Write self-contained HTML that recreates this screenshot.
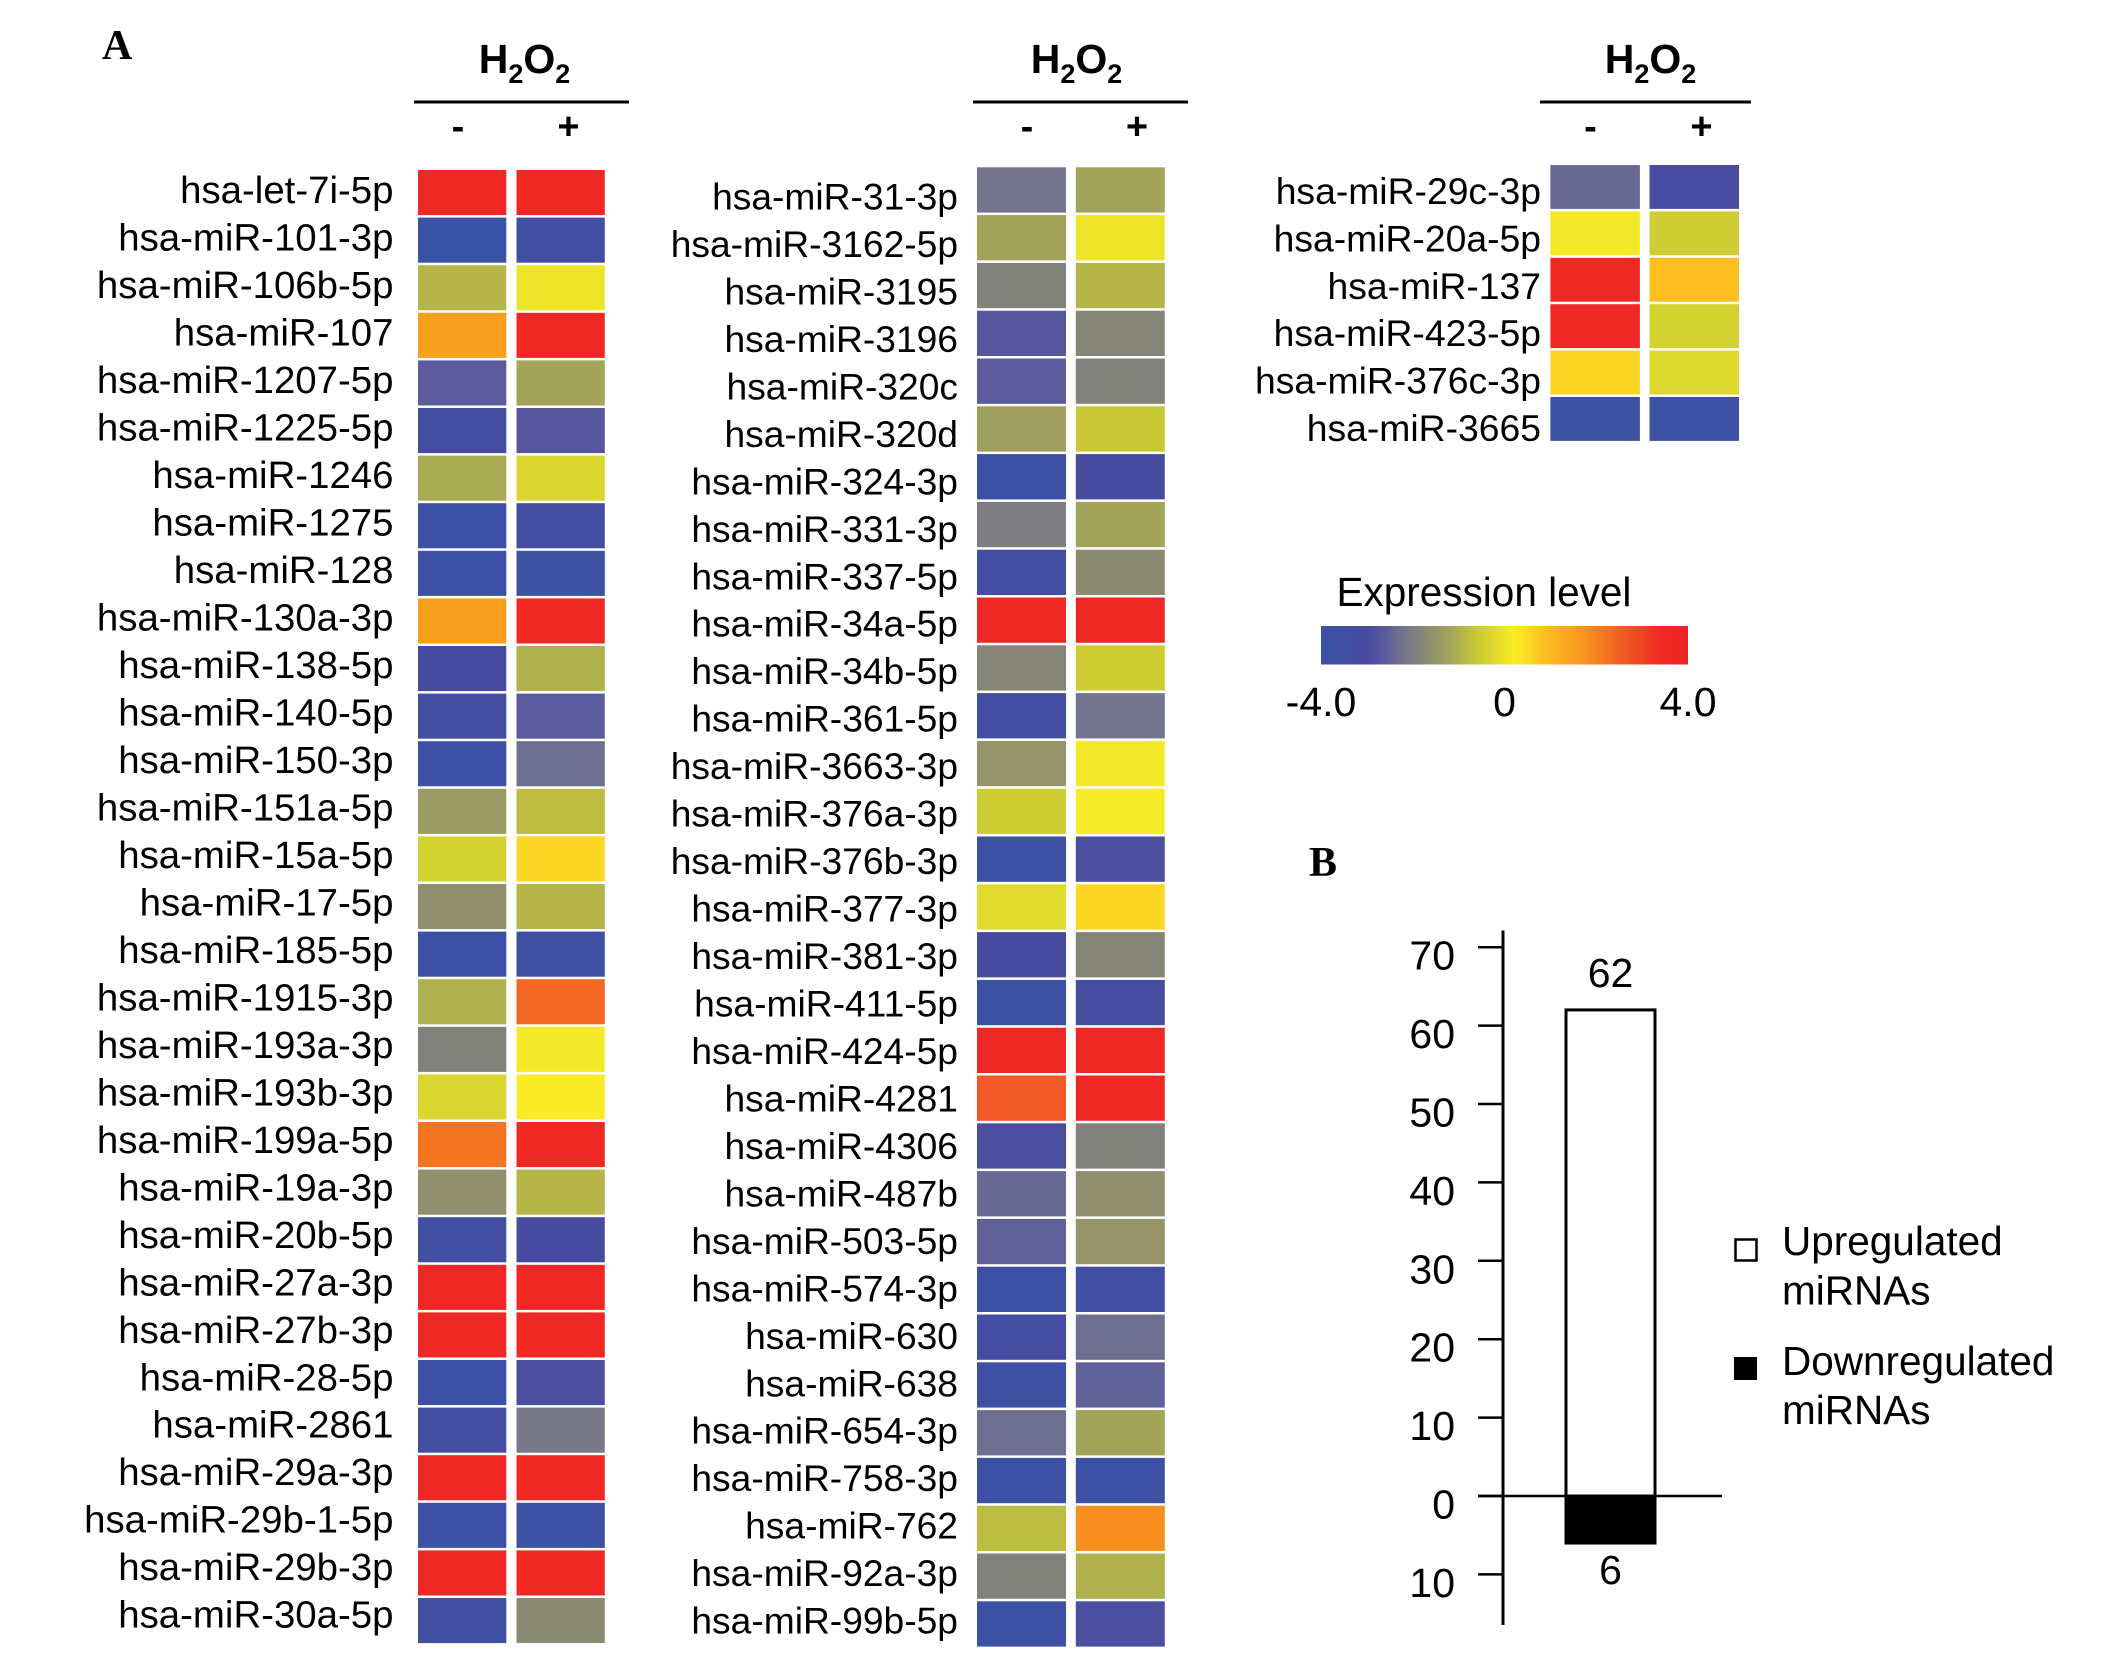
<!DOCTYPE html>
<html lang="en">
<head>
<meta charset="utf-8">
<title>miRNA expression heatmap and regulated miRNA counts</title>
<style>
html,body{margin:0;padding:0;background:#fff;width:2126px;height:1663px;overflow:hidden}
svg{display:block}
text{font-family:"Liberation Sans",Arial,sans-serif;fill:#000}
</style>
</head>
<body>
<svg id="figure" xmlns="http://www.w3.org/2000/svg" width="2126" height="1663" viewBox="0 0 2126 1663">
<defs><linearGradient id="cbar" x1="0" x2="1" y1="0" y2="0"></linearGradient></defs>
<text x="102" y="59" style="font-family:'Liberation Serif',serif;font-weight:bold;font-size:42px">A</text>
<text x="1309" y="876" style="font-family:'Liberation Serif',serif;font-weight:bold;font-size:42px">B</text>
<g id="heat"></g>
<g id="legend"></g>
<g id="bars"></g>
</svg>
<script>
var labelsA = ["hsa-let-7i-5p","hsa-miR-101-3p","hsa-miR-106b-5p","hsa-miR-107","hsa-miR-1207-5p","hsa-miR-1225-5p","hsa-miR-1246","hsa-miR-1275","hsa-miR-128","hsa-miR-130a-3p","hsa-miR-138-5p","hsa-miR-140-5p","hsa-miR-150-3p","hsa-miR-151a-5p","hsa-miR-15a-5p","hsa-miR-17-5p","hsa-miR-185-5p","hsa-miR-1915-3p","hsa-miR-193a-3p","hsa-miR-193b-3p","hsa-miR-199a-5p","hsa-miR-19a-3p","hsa-miR-20b-5p","hsa-miR-27a-3p","hsa-miR-27b-3p","hsa-miR-28-5p","hsa-miR-2861","hsa-miR-29a-3p","hsa-miR-29b-1-5p","hsa-miR-29b-3p","hsa-miR-30a-5p"];
var minusA = [3.6,-3.9,-0.9,1.5,-2.6,-3.2,-1.1,-3.8,-3.8,1.5,-3.0,-3.2,-3.8,-1.4,-0.4,-1.6,-3.8,-1.0,-1.9,-0.3,2.2,-1.6,-3.4,3.6,3.6,-3.8,-3.4,3.6,-3.8,3.6,-3.5];
var plusA = [3.6,-3.4,0.0,3.6,-1.2,-2.7,-0.3,-3.3,-3.7,3.6,-1.0,-2.6,-2.3,-0.8,0.55,-0.9,-3.6,2.4,0.1,0.25,3.5,-0.9,-3.0,3.6,3.6,-2.9,-2.1,3.6,-3.8,3.6,-1.7];
var labelsB = ["hsa-miR-31-3p","hsa-miR-3162-5p","hsa-miR-3195","hsa-miR-3196","hsa-miR-320c","hsa-miR-320d","hsa-miR-324-3p","hsa-miR-331-3p","hsa-miR-337-5p","hsa-miR-34a-5p","hsa-miR-34b-5p","hsa-miR-361-5p","hsa-miR-3663-3p","hsa-miR-376a-3p","hsa-miR-376b-3p","hsa-miR-377-3p","hsa-miR-381-3p","hsa-miR-411-5p","hsa-miR-424-5p","hsa-miR-4281","hsa-miR-4306","hsa-miR-487b","hsa-miR-503-5p","hsa-miR-574-3p","hsa-miR-630","hsa-miR-638","hsa-miR-654-3p","hsa-miR-758-3p","hsa-miR-762","hsa-miR-92a-3p","hsa-miR-99b-5p"];
var minusB = [-2.2,-1.2,-1.9,-2.7,-2.6,-1.3,-3.8,-2.0,-3.4,3.6,-1.8,-3.3,-1.5,-0.5,-3.8,-0.2,-3.0,-3.7,3.6,2.6,-2.9,-2.4,-2.5,-3.8,-3.2,-3.6,-2.3,-3.8,-0.8,-1.9,-3.8];
var plusB = [-1.2,0.0,-0.9,-1.8,-1.9,-0.6,-3.0,-1.2,-1.7,3.6,-0.5,-2.2,0.1,0.15,-2.9,0.55,-1.8,-3.1,3.6,3.5,-1.9,-1.6,-1.5,-3.4,-2.3,-2.5,-1.2,-3.8,1.8,-1.0,-2.9];
var labelsC = ["hsa-miR-29c-3p","hsa-miR-20a-5p","hsa-miR-137","hsa-miR-423-5p","hsa-miR-376c-3p","hsa-miR-3665"];
var minusC = [-2.4,0.1,3.6,3.6,0.6,-3.7];
var plusC = [-3.1,-0.5,0.9,-0.4,-0.25,-3.8];
var scaleValues = [-4,-3,-2.6,-2.2,-1.8,-1.2,-0.6,0.2,1,1.8,2.6,3.4,4];
var scaleColors = ["#3953a4","#474ba0","#5b5b9e","#74748c","#868678","#a3a45a","#c8c835","#f9ee26","#fdb81f","#f7901e","#f15a24","#ee2a24","#ee2424"];
var scaleTickValues = [-4,0,4];
var scaleTickLabels = ["-4.0","0","4.0"];
var barCategories = ["Upregulated miRNAs","Downregulated miRNAs"];
var barValues = [62,-6];
var barValueLabels = ["62","6"];
var axisTicks = [70,60,50,40,30,20,10,0,-10];
var axisTickLabels = ["70","60","50","40","30","20","10","0","10"];

var NS = "http://www.w3.org/2000/svg";
function make(tag, attrs, parent, txt) {
  var el = document.createElementNS(NS, tag);
  for (var k in attrs) el.setAttribute(k, attrs[k]);
  if (txt !== undefined) el.textContent = txt;
  parent.appendChild(el);
  return el;
}
function hex(c) { return [1,3,5].map(function(i){ return parseInt(c.substr(i,2),16); }); }
function colorFor(v) {
  var n = scaleValues.length;
  if (v <= scaleValues[0]) return scaleColors[0];
  if (v >= scaleValues[n-1]) return scaleColors[n-1];
  for (var i = 0; i < n-1; i++) {
    if (v <= scaleValues[i+1]) {
      var t = (v - scaleValues[i]) / (scaleValues[i+1] - scaleValues[i]);
      var a = hex(scaleColors[i]), b = hex(scaleColors[i+1]);
      return "rgb(" + a.map(function(x,j){ return Math.round(x + (b[j]-x)*t); }).join(",") + ")";
    }
  }
}
var heat = document.getElementById("heat");
function panel(id, labels, minus, plus, g) {
  var root = make("g", {}, heat);
  
  
  var title = make("text", {x:g.titleX, y:73, "text-anchor":"middle", style:"font-weight:bold;font-size:41px"}, root);
  
  
  [["H",0],["2",10],["O",-10],["2",10]].forEach(function(p){
    var ts = make("tspan", {dy:p[1], style: p[0]==="2" ? "font-size:27px;font-weight:bold" : ""}, title, p[0]);
  });
  var rule = make("line", {x1:g.ruleX1, x2:g.ruleX2, y1:102, y2:102, stroke:"#000", "stroke-width":3}, root);
  
  
  var mn = make("text", {x:g.minusX, y:139, "text-anchor":"middle", style:"font-size:38px;font-weight:bold"}, root, "-");
  
  
  var pl = make("text", {x:g.plusX, y:139, "text-anchor":"middle", style:"font-size:38px;font-weight:bold"}, root, "+");
  
  
  labels.forEach(function(name, i){
    var y = g.top + i*g.pitch;
    var t = make("text", {x:g.labelX, y:g.base + i*g.labelPitch, "text-anchor":"end", style:"font-size:" + g.fs + "px"}, root, name);
    
    
    var c1 = make("rect", {x:g.c1, y:y, width:g.w, height:g.pitch-2.5, fill:colorFor(minus[i])}, root);
    
    
    var c2 = make("rect", {x:g.c2, y:y, width:g.w, height:g.pitch-2.5, fill:colorFor(plus[i])}, root);
    
    
  });
}
panel("heatmap-panel-1", labelsA, minusA, plusA, {titleX:524.5,ruleX1:414,ruleX2:629,minusX:458,plusX:568.5,top:170,pitch:47.6,labelX:393.5,base:203,labelPitch:47.49,c1:418,c2:516.5,w:88.3,fs:38.4});
panel("heatmap-panel-2", labelsB, minusB, plusB, {titleX:1076.5,ruleX1:973,ruleX2:1188,minusX:1027,plusX:1137,top:167.3,pitch:47.8,labelX:958,base:209.5,labelPitch:47.47,c1:977,c2:1075.8,w:89,fs:37.2});
panel("heatmap-panel-3", labelsC, minusC, plusC, {titleX:1650.5,ruleX1:1540,ruleX2:1751,minusX:1590.5,plusX:1701.5,top:165,pitch:46.4,labelX:1541,base:204,labelPitch:47.4,c1:1550.4,c2:1649.5,w:89.5,fs:37.3});

/* colour scale legend */
var legend = document.getElementById("legend");
var grad = document.getElementById("cbar");
var lX0 = 1321, lX1 = 1688;
function legendX(v){ return lX0 + (v - scaleValues[0]) / (scaleValues[scaleValues.length-1] - scaleValues[0]) * (lX1 - lX0); }
scaleValues.forEach(function(v,i){
  var s = make("stop", {offset:(legendX(v)-lX0)/(lX1-lX0), "stop-color":scaleColors[i]}, grad);
});
var lt = make("text", {x:1336.5, y:606, style:"font-size:40.5px"}, legend, "Expression level");


var lb = make("rect", {x:lX0, y:626, width:lX1-lX0, height:38.5, fill:"url(#cbar)"}, legend);


scaleTickValues.forEach(function(v,i){
  var t = make("text", {x:legendX(v), y:716, "text-anchor":"middle", style:"font-size:41px"}, legend, scaleTickLabels[i]);
  
  
});

/* bar chart */
var bars = document.getElementById("bars");
var zeroY = 1496, perUnit = 7.84;
function yAxis(v){ return zeroY - v*perUnit; }
var axisX = 1503, barX = 1566, barW = 89;
var ax = make("line", {x1:axisX, x2:axisX, y1:930.5, y2:1625, stroke:"#000", "stroke-width":3}, bars);


axisTicks.forEach(function(v,i){
  var tk = make("line", {x1:1478, x2:axisX, y1:yAxis(v), y2:yAxis(v), stroke:"#000", "stroke-width":2.5}, bars);
  
  
  var tl = make("text", {x:1455, y:yAxis(v)+22.5, "text-anchor":"end", style:"font-size:41px"}, bars, axisTickLabels[i]);
  
  
});
var up = make("rect", {x:barX, y:yAxis(barValues[0]), width:barW, height:yAxis(0)-yAxis(barValues[0]), fill:"#fff", stroke:"#000", "stroke-width":3}, bars);


var down = make("rect", {x:barX-1.5, y:yAxis(0), width:barW+3, height:yAxis(barValues[1])-yAxis(0)+1.5, fill:"#000"}, bars);


var zl = make("line", {x1:1478, x2:1722, y1:yAxis(0), y2:yAxis(0), stroke:"#000", "stroke-width":2.5}, bars);


var v1 = make("text", {x:barX+barW/2, y:yAxis(barValues[0])-23, "text-anchor":"middle", style:"font-size:41px"}, bars, barValueLabels[0]);


var v2 = make("text", {x:barX+barW/2, y:yAxis(barValues[1])+41, "text-anchor":"middle", style:"font-size:41px"}, bars, barValueLabels[1]);


var k1 = make("rect", {x:1735.5, y:1239.5, width:21, height:21, fill:"#fff", stroke:"#000", "stroke-width":2.5}, bars);


var k2 = make("rect", {x:1734, y:1357, width:23, height:23, fill:"#000"}, bars);


[[barCategories[0],1255,1304.5],[barCategories[1],1375,1424]].forEach(function(row){
  var parts = row[0].split(" ");
  var a = make("text", {x:1782, y:row[1], style:"font-size:40.5px"}, bars, parts[0]);
  
  
  var b = make("text", {x:1782, y:row[2], style:"font-size:40.5px"}, bars, parts[1]);
  
  
});
</script>
</body>
</html>
